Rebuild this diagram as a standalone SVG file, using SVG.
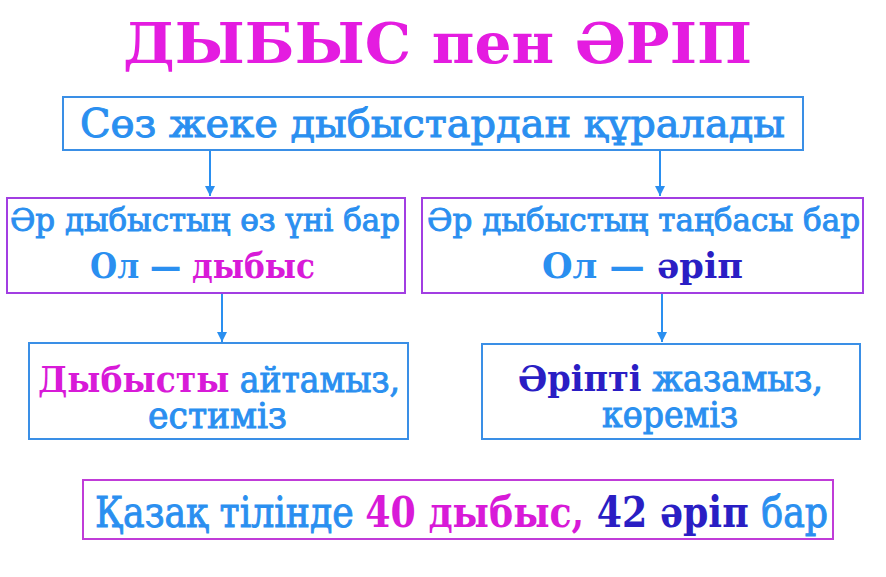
<svg xmlns="http://www.w3.org/2000/svg" width="886" height="577" viewBox="0 0 886 577">
<style>
text{font-family:"DejaVu Serif Condensed","DejaVu Serif","Liberation Serif",serif;}
.t{fill:#e41ce0;font-weight:bold;font-size:56px;}
.b{fill:#2a8ff0;}
.w{stroke:#2a8ff0;stroke-width:0.9;}
.m{fill:#d81ad8;}
.d{fill:#2a1ec4;}
.bold{font-weight:bold;}
.boxb{fill:#fff;stroke:#3a8fe6;stroke-width:2;}
.boxp{fill:#fff;stroke:#a23ee2;stroke-width:2;}
.conn{stroke:#2a8ff0;stroke-width:2;fill:none;marker-end:url(#ah);}
</style>
<defs>
<marker id="ah" viewBox="0 0 10 10" refX="10" refY="5" markerWidth="10" markerHeight="10" markerUnits="userSpaceOnUse" orient="auto">
<path d="M0,0 L10,5 L0,10 z" fill="#2a8ff0"/>
</marker>
</defs>
<rect width="886" height="577" fill="#fff"/>
<g id="title">
<text class="t" x="123" y="63" textLength="629" lengthAdjust="spacingAndGlyphs">ДЫБЫС<tspan dx="18">пен</tspan><tspan dx="18">ӘРІП</tspan></text>
</g>
<g id="connectors">
<line class="conn" x1="210" y1="150" x2="210" y2="196"/>
<line class="conn" x1="660" y1="150" x2="660" y2="196"/>
<line class="conn" x1="222" y1="294" x2="222" y2="342"/>
<line class="conn" x1="662" y1="294" x2="662" y2="342"/>
</g>
<g id="top">
<rect class="boxb" x="63" y="97" width="740" height="53"/>
<text class="b w" x="80" y="137" font-size="40" textLength="705" lengthAdjust="spacingAndGlyphs">Сөз жеке дыбыстардан құралады</text>
</g>
<g id="mid-left">
<rect class="boxp" x="7" y="198" width="398" height="95"/>
<text class="b w" x="10" y="231" font-size="32" textLength="390" lengthAdjust="spacingAndGlyphs">Әр дыбыстың өз үні бар</text>
<text class="b bold" x="90" y="278" font-size="36" textLength="225" lengthAdjust="spacingAndGlyphs">Ол — <tspan class="m">дыбыс</tspan></text>
</g>
<g id="mid-right">
<rect class="boxp" x="422" y="198" width="441" height="95"/>
<text class="b w" x="427" y="231" font-size="32" textLength="433" lengthAdjust="spacingAndGlyphs">Әр дыбыстың таңбасы бар</text>
<text class="b bold" x="542" y="278" font-size="36" textLength="201" lengthAdjust="spacingAndGlyphs">Ол — <tspan class="d">әріп</tspan></text>
</g>
<g id="bottom-left">
<rect class="boxb" x="29" y="343" width="379" height="96"/>
<text x="38" y="392" font-size="35" textLength="362" lengthAdjust="spacingAndGlyphs"><tspan class="m bold">Дыбысты</tspan><tspan class="b w"> айтамыз,</tspan></text>
<text class="b w" x="148" y="428" font-size="35" textLength="139" lengthAdjust="spacingAndGlyphs">естиміз</text>
</g>
<g id="bottom-right">
<rect class="boxb" x="482" y="344" width="378" height="95"/>
<text x="518" y="391" font-size="35" textLength="305" lengthAdjust="spacingAndGlyphs"><tspan class="d bold">Әріпті</tspan><tspan class="b w"> жазамыз,</tspan></text>
<text class="b w" x="602" y="427" font-size="35" textLength="136" lengthAdjust="spacingAndGlyphs">көреміз</text>
</g>
<g id="summary">
<rect x="83" y="480" width="750" height="59" fill="#fff" stroke="#c03cd8" stroke-width="2"/>
<text x="95" y="527" font-size="42" textLength="733" lengthAdjust="spacingAndGlyphs"><tspan class="b w">Қазақ тілінде </tspan><tspan class="m bold">40 дыбыс, </tspan><tspan class="d bold">42 әріп </tspan><tspan class="b w">бар</tspan></text>
</g>
</svg>
